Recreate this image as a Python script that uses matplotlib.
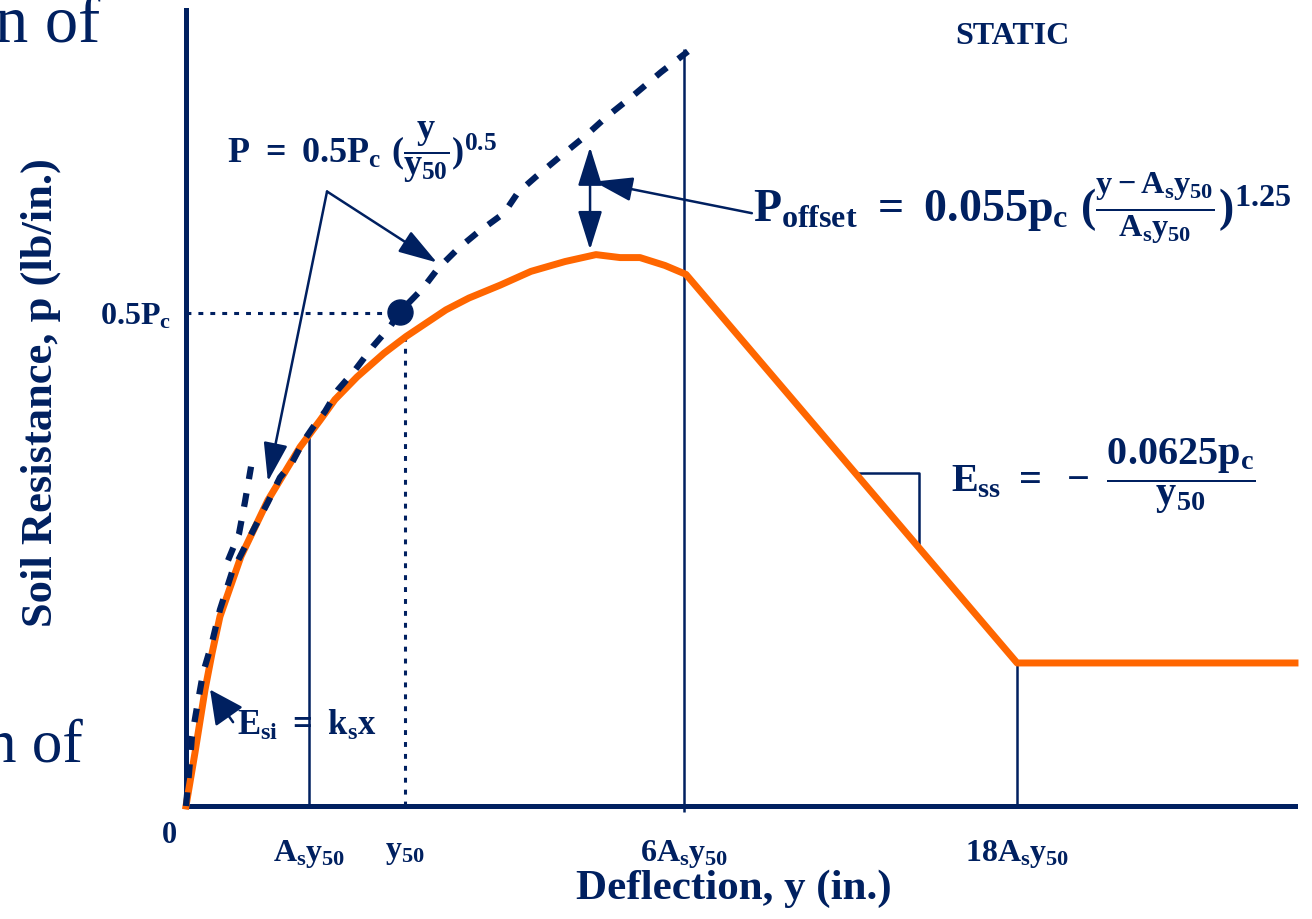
import matplotlib
matplotlib.use('Agg')
import matplotlib.pyplot as plt

navy = '#002060'
orange = '#ff6600'

# deflection in units of y50, resistance in units of Pc
curve_y = [0, 0.041, 0.087, 0.119, 0.155, 0.251, 0.374, 0.521, 0.612, 0.680,
           0.781, 0.904, 1.005, 1.187, 1.292, 1.434, 1.575, 1.731, 1.872,
           1.982, 2.073, 2.187, 2.283, 3.795, 5.064]
curve_p = [0, 0.054, 0.118, 0.155, 0.192, 0.253, 0.310, 0.364, 0.391, 0.412,
           0.435, 0.459, 0.476, 0.503, 0.515, 0.528, 0.542, 0.552, 0.559,
           0.556, 0.556, 0.548, 0.539, 0.145, 0.145]

# dashed parabola P = 0.5Pc (y/y50)^0.5
para_y = [0, 0.014, 0.027, 0.050, 0.078, 0.119, 0.155, 0.210, 0.256, 0.315,
          0.374, 0.429, 0.484, 0.534, 0.580, 0.635, 0.694, 0.772, 0.854,
          0.932, 0.977, 1.082, 1.151, 1.242, 1.329, 1.452, 1.516, 1.598,
          1.717, 1.822, 1.922, 2.046, 2.169, 2.292]
para_p = [0, 0.034, 0.070, 0.100, 0.135, 0.166, 0.199, 0.237, 0.257, 0.283,
          0.308, 0.333, 0.348, 0.369, 0.384, 0.400, 0.422, 0.442, 0.466,
          0.486, 0.501, 0.525, 0.545, 0.565, 0.581, 0.601, 0.622, 0.638,
          0.660, 0.679, 0.699, 0.721, 0.744, 0.765]

# short dashed branch left of the curve
branch_y = [0.192, 0.242, 0.269, 0.297]
branch_p = [0.249, 0.276, 0.308, 0.344]

# key deflections
as_y50 = 0.562
y50 = 1.0
six_as = 2.274
eighteen_as = 3.795
tick_pos = [as_y50, y50, six_as, eighteen_as]
tick_labels = [r'$A_s y_{50}$', r'$y_{50}$', r'$6A_s y_{50}$', r'$18A_s y_{50}$']

plt.rcParams.update({
    'font.family': 'Liberation Serif',
    'font.weight': 'bold',
    'axes.labelweight': 'bold',
    'mathtext.fontset': 'custom',
    'mathtext.rm': 'Liberation Serif:bold',
    'mathtext.it': 'Liberation Serif:bold',
    'mathtext.bf': 'Liberation Serif:bold',
    'mathtext.sf': 'Liberation Serif:bold',
    'text.color': navy,
})

fig = plt.figure(figsize=(13.12, 9.19), dpi=100)
ax = fig.add_axes([186 / 1312, 113 / 919, 1109 / 1312, 796 / 919])
ax.set_xlim(0, 5.064)
ax.set_ylim(0, 0.807)

for s in ['top', 'right']:
    ax.spines[s].set_visible(False)
for s in ['left', 'bottom']:
    ax.spines[s].set_linewidth(3.6)
    ax.spines[s].set_color(navy)

ax.set_xticks(tick_pos)
ax.set_xticklabels(tick_labels, fontsize=23)
ax.set_yticks([0.5])
ax.set_yticklabels([r'$0.5P_c$'], fontsize=23)
ax.tick_params(axis='x', length=0, pad=23, colors=navy)
ax.tick_params(axis='y', length=0, pad=11, colors=navy)

ax.set_xlabel('Deflection, y (in.)', fontsize=31, color=navy)
ax.set_ylabel('Soil Resistance, p (lb/in.)', fontsize=32, color=navy)
ax.xaxis.set_label_coords(0.494, -0.104)
ax.yaxis.set_label_coords(-0.131, 0.519)
ax.xaxis.label.set_va('center')
ax.yaxis.label.set_va('center')

ax.annotate('0', xy=(0, 0), xytext=(-12, -21), textcoords='offset points',
            fontsize=22, ha='center', va='center')

# guide lines
ax.vlines(as_y50, 0, 0.374, color=navy, lw=1.8)
ax.vlines(six_as, -0.006, 0.767, color=navy, lw=1.8, clip_on=False)
ax.vlines(eighteen_as, 0, 0.145, color=navy, lw=1.8)
ax.plot([0, 0.97], [0.5, 0.5], color=navy, lw=2.2, ls=(0, (1.6, 2.3)))
ax.plot([y50, y50], [0, 0.48], color=navy, lw=2.2, ls=(0, (1.6, 2.3)))

# curves
ax.plot(curve_y, curve_p, color=orange, lw=5, clip_on=False, zorder=3,
        solid_joinstyle='round')
ax.plot(para_y, para_p, color=navy, lw=4.5, ls=(0, (2.2, 2.3)), zorder=4,
        clip_on=False)
ax.plot(branch_y, branch_p, color=navy, lw=4.5, ls=(0, (2.2, 2.3)), zorder=4)
ax.plot([0.977], [0.501], 'o', ms=18, color=navy, zorder=5)

# slope marker
ax.plot([3.073, 3.347, 3.347], [0.338, 0.338, 0.267], color=navy, lw=1.8)

arrow = dict(arrowstyle='-|>,head_length=0.8,head_width=0.25',
             mutation_scale=30, lw=1.8, color=navy, shrinkA=0, shrinkB=0)

# P = 0.5Pc(y/y50)^0.5 pointers
ax.annotate('', xy=(0.374, 0.329), xytext=(0.644, 0.623), arrowprops=arrow)
ax.annotate('', xy=(1.146, 0.551), xytext=(0.644, 0.623), arrowprops=arrow)
# offset arrows
ax.annotate('', xy=(1.863, 0.633), xytext=(2.584, 0.601), arrowprops=arrow)
ax.annotate('', xy=(1.845, 0.668), xytext=(1.845, 0.564),
            arrowprops=dict(arrow, arrowstyle='<|-|>,head_length=0.8,head_width=0.25'))
# initial stiffness arrow
ax.annotate('', xy=(0.110, 0.118), xytext=(0.215, 0.085),
            arrowprops=dict(arrow, arrowstyle='-|>,head_length=0.7,head_width=0.35'))

ax.text(3.772, 0.780, 'STATIC', fontsize=23, ha='center', va='center')
ax.text(0.188, 0.652, r'$P\ =\ 0.5P_c\ (\dfrac{y}{y_{50}})^{0.5}$',
        fontsize=26, ha='left', va='baseline')
ax.text(2.59, 0.592,
        r'$P_{offset}\ =\ 0.055p_c\ (\frac{y-A_s y_{50}}{A_s y_{50}})^{1.25}$',
        fontsize=33, ha='left', va='baseline')
ax.text(3.493, 0.318, r'$E_{ss}\ =\ -\ \dfrac{0.0625p_c}{y_{50}}$',
        fontsize=29, ha='left', va='baseline')
ax.text(0.233, 0.072, r'$E_{si}\ =\ k_s x$', fontsize=25, ha='left',
        va='baseline')

# clipped slide text behind the figure
fig.text(100 / 1312, 1 - 42 / 919, 'n of', fontsize=48, fontweight='normal',
         ha='right', va='baseline', color=navy)
fig.text(83 / 1312, 1 - 762 / 919, 'n of', fontsize=44, fontweight='normal',
         ha='right', va='baseline', color=navy)

fig.savefig('out.png', dpi=100)
